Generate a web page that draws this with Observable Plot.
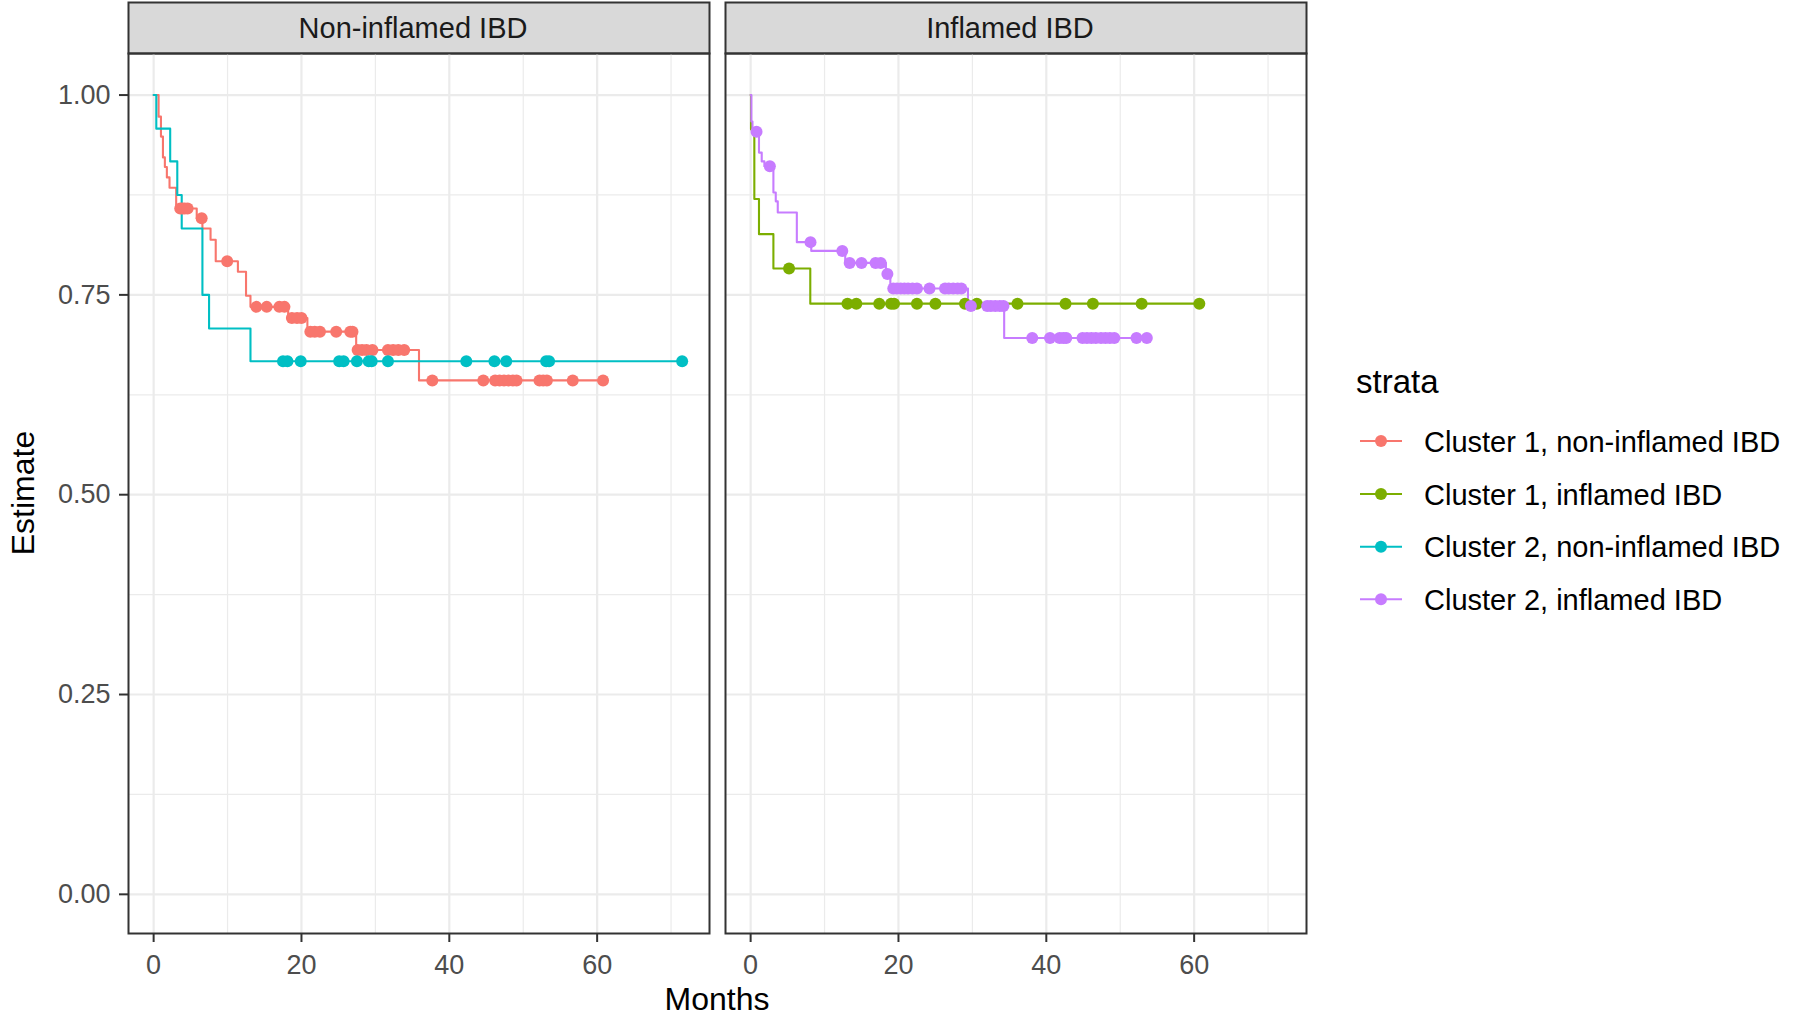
<!DOCTYPE html>
<html><head><meta charset="utf-8">
<script src="https://cdn.jsdelivr.net/npm/d3@7"></script>
<script src="https://cdn.jsdelivr.net/npm/@observablehq/plot@0.6"></script>
<style>
body{margin:0;background:#fff;}
#wrap{position:relative;width:1794px;height:1018px;font-family:"Liberation Sans",Arial,sans-serif;}
#overlay{position:absolute;left:0;top:0;pointer-events:none;}
</style></head><body><div id="wrap"></div>
<script>
// ---- data ----
const panels = ["Non-inflamed IBD", "Inflamed IBD"];
const strataNames = ["Cluster 1, non-inflamed IBD", "Cluster 1, inflamed IBD", "Cluster 2, non-inflamed IBD", "Cluster 2, inflamed IBD"];
const strataPanel = ["Non-inflamed IBD", "Inflamed IBD", "Non-inflamed IBD", "Inflamed IBD"];
const strataColors = ["#F8766D", "#7CAE00", "#00BFC4", "#C77CFF"];

// Cluster 1, non-inflamed IBD
const c1nTimes = [0, 0.67, 0.99, 1.26, 1.52, 1.79, 2.15, 3.05, 5.83, 6.6, 7.7, 8.4, 11.4, 12.5, 13.1, 18.2, 20.8, 27.4, 35.9];
const c1nSurv = [1, 0.973, 0.948, 0.922, 0.910, 0.897, 0.884, 0.858, 0.846, 0.833, 0.819, 0.792, 0.779, 0.749, 0.735, 0.721, 0.704, 0.681, 0.643];
const c1nEnd = 60.8;
const c1nCensor = [3.6, 3.9, 4.2, 4.6, 6.5, 9.95, 13.9, 15.3, 17.0, 17.7, 18.7, 19.4, 20.0, 21.2, 21.8, 22.5, 24.7, 26.6, 26.9, 27.6, 28.2, 28.8, 29.6, 31.7, 32.4, 33.1, 33.9, 37.7, 44.6, 46.2, 46.8, 47.4, 48.0, 48.6, 49.1, 52.2, 52.7, 53.2, 56.7, 60.8];

// Cluster 1, inflamed IBD
const c1iTimes = [0, 0.05, 0.5, 1.13, 3.08, 8.07];
const c1iSurv = [1, 0.957, 0.870, 0.826, 0.783, 0.739];
const c1iEnd = 60.7;
const c1iCensor = [5.2, 13.1, 14.3, 17.4, 19.0, 19.4, 22.5, 25.0, 29.0, 30.6, 36.1, 42.6, 46.3, 52.9, 60.7];

// Cluster 2, non-inflamed IBD
const c2nTimes = [0, 0.36, 2.24, 3.2, 3.8, 6.6, 7.5, 13.1];
const c2nSurv = [1, 0.958, 0.917, 0.875, 0.833, 0.750, 0.708, 0.667];
const c2nEnd = 71.5;
const c2nCensor = [17.5, 18.1, 19.9, 25.1, 25.7, 27.5, 29.1, 29.5, 31.7, 42.3, 46.1, 47.7, 53.1, 53.5, 71.5];

// Cluster 2, inflamed IBD
const c2iTimes = [0, 0.1, 0.25, 1.13, 1.5, 1.86, 3.08, 3.4, 3.67, 6.25, 8.2, 12.8, 18.3, 18.9, 29.4, 34.3];
const c2iSurv = [1, 0.967, 0.954, 0.928, 0.917, 0.911, 0.878, 0.867, 0.853, 0.816, 0.805, 0.790, 0.776, 0.758, 0.736, 0.696];
const c2iEnd = 53.6;
const c2iCensor = [0.8, 2.6, 8.1, 12.4, 13.4, 15.0, 16.9, 17.6, 18.5, 19.3, 19.8, 20.3, 20.8, 21.3, 21.9, 22.5, 24.2, 26.3, 26.8, 27.4, 28.0, 28.5, 29.8, 32.0, 32.5, 33.1, 33.7, 34.2, 38.1, 40.5, 41.8, 42.3, 42.7, 44.9, 45.5, 46.1, 46.7, 47.4, 48.0, 48.6, 49.2, 52.2, 53.6];

const xMajor = [0, 20, 40, 60];
const xMinor = [10, 30, 50, 70];
const yMajor = [0, 0.25, 0.5, 0.75, 1];
const yMinor = [0.125, 0.375, 0.625, 0.875];

// ---- build tables ----
const series = [
  [c1nTimes, c1nSurv, c1nEnd, c1nCensor],
  [c1iTimes, c1iSurv, c1iEnd, c1iCensor],
  [c2nTimes, c2nSurv, c2nEnd, c2nCensor],
  [c2iTimes, c2iSurv, c2iEnd, c2iCensor]
];
const steps = [], censors = [];
series.forEach(([times, surv, end, cens], i) => {
  const strata = strataNames[i], panel = strataPanel[i];
  times.forEach((t, j) => steps.push({time: t, surv: surv[j], strata, panel}));
  steps.push({time: end, surv: surv[surv.length - 1], strata, panel});
  cens.forEach(c => {
    let j = 0;
    for (let k = 0; k < times.length; k++) if (times[k] <= c) j = k;
    censors.push({time: c, surv: surv[j], strata, panel});
  });
});

const chart = Plot.plot({
  width: 1794, height: 1018,
  marginLeft: 128, marginRight: 488, marginTop: 53, marginBottom: 85,
  style: {fontFamily: '"Liberation Sans", Arial, sans-serif', fontSize: "27px", background: "white", color: "#333"},
  fx: {domain: panels, paddingInner: 16 / 597, paddingOuter: 0, axis: null, label: null},
  x: {domain: [-3.4, 75.2], label: null},
  y: {domain: [-0.049, 1.052], label: null},
  color: {domain: strataNames, range: strataColors},
  marks: [
    Plot.frame({fill: "#D9D9D9", stroke: "#333", strokeWidth: 2, insetTop: -51, insetBottom: 880}),
    Plot.text(panels, {fx: d => d, text: d => d, frameAnchor: "top", lineAnchor: "middle", dy: -25, dx: -6, fontSize: 29, fill: "#1A1A1A"}),
    Plot.gridX(xMinor, {stroke: "#EBEBEB", strokeOpacity: 1, strokeWidth: 1.2}),
    Plot.gridY(yMinor, {stroke: "#EBEBEB", strokeOpacity: 1, strokeWidth: 1.2}),
    Plot.gridX(xMajor, {stroke: "#EBEBEB", strokeOpacity: 1, strokeWidth: 2.2}),
    Plot.gridY(yMajor, {stroke: "#EBEBEB", strokeOpacity: 1, strokeWidth: 2.2}),
    Plot.line(steps, {x: "time", y: "surv", z: "strata", stroke: "strata", fx: "panel", curve: "step-after", strokeWidth: 2.1}),
    Plot.dot(censors, {x: "time", y: "surv", fill: "strata", fx: "panel", r: 6, stroke: null}),
    Plot.frame({stroke: "#333", strokeWidth: 2}),
    Plot.axisX(xMajor, {tickSize: 9, tickPadding: 12, stroke: "#333", strokeWidth: 2, color: "#4D4D4D", fontSize: 27, label: null}),
    Plot.axisY(yMajor, {tickFormat: d3.format(".2f"), tickSize: 9, tickPadding: 9, stroke: "#333", strokeWidth: 2, color: "#4D4D4D", fontSize: 27, label: null})
  ]
});
document.getElementById("wrap").appendChild(chart);

// ---- titles and legend ----
const svg = d3.select("#wrap").append("svg").attr("id", "overlay")
  .attr("width", 1794).attr("height", 1018)
  .style("font-family", '"Liberation Sans", Arial, sans-serif');
svg.append("text").attr("x", 717).attr("y", 1010).attr("text-anchor", "middle")
  .attr("font-size", 32).attr("fill", "#000").text("Months");
svg.append("text").attr("transform", "translate(34,493) rotate(-90)").attr("text-anchor", "middle")
  .attr("font-size", 32).attr("fill", "#000").text("Estimate");
svg.append("text").attr("x", 1356).attr("y", 393).attr("font-size", 33).attr("fill", "#000").text("strata");
const itemY = [441, 494, 546.7, 599.3];
strataNames.forEach((name, i) => {
  const g = svg.append("g").attr("transform", `translate(0,${itemY[i]})`);
  g.append("line").attr("x1", 1360).attr("x2", 1402).attr("y1", 0).attr("y2", 0)
    .attr("stroke", strataColors[i]).attr("stroke-width", 2);
  g.append("circle").attr("cx", 1381).attr("cy", 0).attr("r", 6).attr("fill", strataColors[i]);
  g.append("text").attr("x", 1424).attr("y", 10.5).attr("font-size", 29).attr("fill", "#000").text(name);
});
</script>
</body></html>
